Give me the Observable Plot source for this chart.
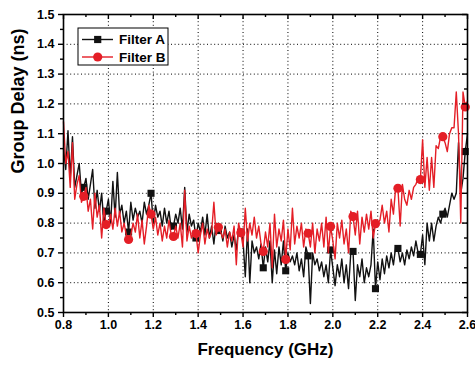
<!DOCTYPE html>
<html><head><meta charset="utf-8">
<script src="https://cdn.jsdelivr.net/npm/d3@7"></script>
<script src="https://cdn.jsdelivr.net/npm/@observablehq/plot@0.6"></script>
<style>
html,body{margin:0;padding:0;background:#fff;}
#wrap{width:475px;height:366px;}
</style></head><body><div id="wrap"></div>
<script>
// ---- data ----
const startFreq = 0.80;   // GHz
const freqStep = 0.01;    // GHz
const filterA = [
1.05,0.98,1.11,0.95,1.09,0.92,0.96,1.00,0.90,0.92,
0.95,0.88,0.93,0.98,0.85,0.91,0.84,0.90,0.80,0.84,
0.88,0.80,0.94,0.82,0.97,0.83,0.86,0.80,0.84,0.77,
0.87,0.81,0.85,0.82,0.84,0.80,0.87,0.83,0.86,0.90,
0.80,0.86,0.82,0.84,0.79,0.85,0.80,0.84,0.78,0.79,
0.83,0.80,0.85,0.78,0.92,0.77,0.83,0.79,0.81,0.75,
0.80,0.77,0.82,0.76,0.83,0.75,0.79,0.73,0.80,0.775,
0.78,0.74,0.79,0.75,0.77,0.72,0.76,0.71,0.78,0.77,
0.74,0.62,0.78,0.60,0.74,0.70,0.72,0.68,0.73,0.65,
0.72,0.67,0.74,0.60,0.71,0.63,0.72,0.66,0.74,0.64,
0.70,0.67,0.69,0.66,0.70,0.64,0.68,0.62,0.72,0.69,
0.53,0.70,0.66,0.68,0.64,0.67,0.62,0.66,0.60,0.71,
0.65,0.59,0.66,0.62,0.68,0.60,0.66,0.58,0.70,0.705,
0.54,0.66,0.62,0.68,0.60,0.65,0.62,0.66,0.78,0.58,
0.67,0.61,0.68,0.63,0.69,0.65,0.70,0.66,0.72,0.715,
0.67,0.70,0.66,0.71,0.68,0.72,0.69,0.74,0.70,0.695,
0.76,0.66,0.80,0.74,0.80,0.74,0.79,0.82,0.80,0.83,
0.85,0.82,0.86,0.90,0.88,0.90,1.07,0.90,0.95,1.04,
1.10];
const filterB = [
1.14,1.00,1.04,0.92,1.07,0.88,0.93,0.96,0.87,0.89,
0.92,0.84,0.88,0.78,0.90,0.82,0.86,0.75,0.85,0.795,
0.79,0.83,0.78,0.85,0.79,0.84,0.77,0.80,0.76,0.745,
0.76,0.80,0.77,0.83,0.75,0.81,0.73,0.79,0.86,0.83,
0.78,0.82,0.76,0.80,0.74,0.79,0.75,0.81,0.76,0.755,
0.79,0.75,0.80,0.72,0.91,0.74,0.79,0.75,0.77,0.765,
0.70,0.76,0.80,0.73,0.78,0.75,0.77,0.87,0.76,0.786,
0.77,0.75,0.78,0.72,0.77,0.74,0.79,0.66,0.80,0.768,
0.72,0.85,0.74,0.80,0.76,0.82,0.75,0.79,0.73,0.705,
0.77,0.72,0.80,0.65,0.83,0.72,0.78,0.74,0.81,0.678,
0.78,0.71,0.85,0.73,0.79,0.75,0.80,0.72,0.78,0.766,
0.72,0.80,0.70,0.78,0.74,0.80,0.72,0.82,0.70,0.789,
0.74,0.68,0.80,0.75,0.81,0.73,0.78,0.70,0.84,0.822,
0.76,0.84,0.73,0.82,0.77,0.83,0.78,0.84,0.75,0.798,
0.80,0.81,0.86,0.80,0.84,0.77,0.88,0.83,0.92,0.917,
0.79,0.93,0.88,0.86,0.91,0.88,0.92,0.93,0.95,0.946,
1.08,0.92,1.02,0.91,1.02,0.92,1.06,1.05,1.09,1.09,
1.07,1.04,1.10,1.12,1.12,1.24,1.10,0.80,1.24,1.19,
1.21];
const markerEvery = 10, markerOffset = 9;
const xMajorTicks = [0.8,1.0,1.2,1.4,1.6,1.8,2.0,2.2,2.4,2.6];
const xMinorTicks = [0.9,1.1,1.3,1.5,1.7,1.9,2.1,2.3,2.5];
const yMajorTicks = [0.5,0.6,0.7,0.8,0.9,1.0,1.1,1.2,1.3,1.4,1.5];
const yMinorTicks = [0.55,0.65,0.75,0.85,0.95,1.05,1.15,1.25,1.35,1.45];
const xGridTicks = [1.0,1.2,1.4,1.6,1.8,2.0,2.2,2.4];
const yGridTicks = [0.6,0.7,0.8,0.9,1.0,1.1,1.2,1.3,1.4];
const seriesNames = ["Filter A","Filter B"];
const xTitle = "Frequency (GHz)";
const yTitle = "Group Delay (ns)";

// ---- build tables ----
const toRows = arr => arr.map((v,i)=>({f: +(startFreq + i*freqStep).toFixed(2), v, i}));
const rowsA = toRows(filterA), rowsB = toRows(filterB);
const marks = rows => rows.filter(d => d.i % markerEvery === markerOffset);

const W=475,H=366,mL=63,mR=8,mT=14,mB=54;
const innerW=W-mL-mR, innerH=H-mT-mB;
const BLACK="#111", RED="#e41e26";
const font='"Liberation Sans", Arial, Helvetica, sans-serif';

const chart = Plot.plot({
  width:W, height:H, marginLeft:mL, marginRight:mR, marginTop:mT, marginBottom:mB,
  style:{fontFamily:font, fontSize:"12.5px", fontWeight:"bold", color:"#000", background:"#fff", overflow:"visible"},
  x:{domain:[0.8,2.6], label:null},
  y:{domain:[0.5,1.5], label:null},
  marks:[
    Plot.gridX(xGridTicks,{stroke:"#000", strokeOpacity:1, strokeWidth:1, strokeDasharray:"1,2.6"}),
    Plot.gridY(yGridTicks,{stroke:"#000", strokeOpacity:1, strokeWidth:1, strokeDasharray:"1,2.6"}),
    Plot.line(rowsA,{x:"f", y:"v", stroke:BLACK, strokeWidth:1.4}),
    Plot.dot(marks(rowsA),{x:"f", y:"v", symbol:"square", fill:BLACK, stroke:"none", r:4}),
    Plot.line(rowsB,{x:"f", y:"v", stroke:RED, strokeWidth:1.4}),
    Plot.dot(marks(rowsB),{x:"f", y:"v", symbol:"circle", fill:RED, stroke:"none", r:4.6}),
    Plot.frame({stroke:"#000", strokeWidth:1.6}),
    Plot.axisX(xMajorTicks,{anchor:"bottom", tickSize:5, tickPadding:3, tickFormat:d3.format(".1f"), label:null, strokeWidth:1.4}),
    Plot.axisX(xMinorTicks,{anchor:"bottom", tickSize:3, text:null, label:null, strokeWidth:1.4}),
    Plot.axisY(yMajorTicks,{anchor:"left", tickSize:5, tickPadding:4, tickFormat:d3.format(".1f"), label:null, strokeWidth:1.4}),
    Plot.axisY(yMinorTicks,{anchor:"left", tickSize:3, text:null, label:null, strokeWidth:1.4}),
    // inward ticks on top and right
    Plot.tickX(xMajorTicks,{x:d=>d, insetBottom:innerH-5, stroke:"#000", strokeWidth:1.4}),
    Plot.tickX(xMinorTicks,{x:d=>d, insetBottom:innerH-3, stroke:"#000", strokeWidth:1.4}),
    Plot.tickY(yMajorTicks,{y:d=>d, insetLeft:innerW-5, stroke:"#000", strokeWidth:1.4}),
    Plot.tickY(yMinorTicks,{y:d=>d, insetLeft:innerW-3, stroke:"#000", strokeWidth:1.4}),
    Plot.text([xTitle],{text:d=>d, frameAnchor:"bottom", dy:42, fontSize:17, fontWeight:"bold", fill:"#000"}),
    Plot.text([yTitle],{text:d=>d, frameAnchor:"left", dx:-45, dy:10, rotate:-90, fontSize:18, fontWeight:"bold", fill:"#000"})
  ]
});

// ---- legend inside the plot ----
const svg = d3.select(chart);
const lg = svg.append("g").attr("font-family",font).attr("font-weight","bold").attr("font-size","13.5px").attr("text-anchor","start");
lg.append("rect").attr("x",78).attr("y",28).attr("width",90).attr("height",37).attr("fill","#fff").attr("stroke","#000").attr("stroke-width",1);
const rowsY=[39.5,57];
seriesNames.forEach((name,k)=>{
  const y=rowsY[k], col=k===0?BLACK:RED;
  lg.append("line").attr("x1",82).attr("x2",113).attr("y1",y).attr("y2",y).attr("stroke",col).attr("stroke-width",1.4);
  if(k===0) lg.append("rect").attr("x",97.7-3.6).attr("y",y-3.6).attr("width",7.2).attr("height",7.2).attr("fill",col);
  else lg.append("circle").attr("cx",97.7).attr("cy",y).attr("r",4.6).attr("fill",col);
  lg.append("text").attr("x",119).attr("y",y).attr("dy","0.35em").attr("text-anchor","start").attr("fill","#000").text(name);
});

document.getElementById("wrap").appendChild(chart);
</script>
</body></html>
